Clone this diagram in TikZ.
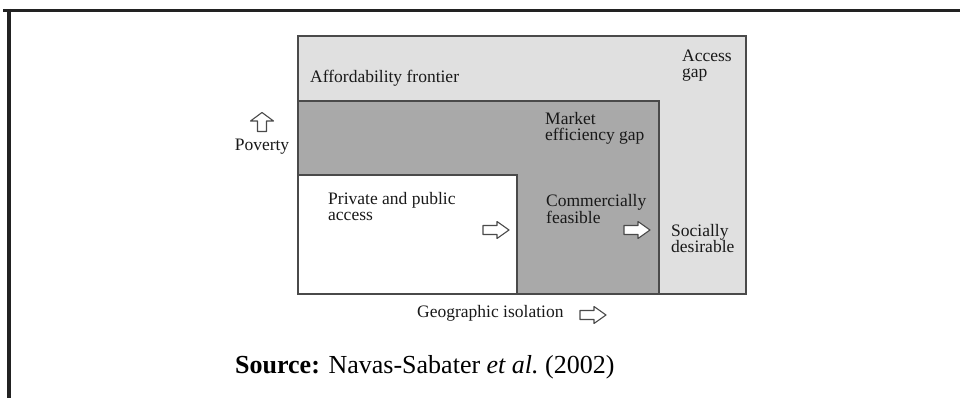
\documentclass[tikz,border=0pt]{standalone}
\usepackage{fontspec}
\setmainfont{Liberation Serif}
\definecolor{lightg}{HTML}{E0E0E0}
\definecolor{midg}{HTML}{A9A9A9}
\definecolor{edgeg}{HTML}{4A4A4A}
\definecolor{frameg}{HTML}{222222}
\begin{document}
\begin{tikzpicture}[x=1pt,y=-1pt,
  region/.style={draw=edgeg,line width=1.2pt},
  lbl/.style={inner sep=0pt,align=left,font=\fontsize{17.5}{16}\selectfont,text=black!90},
  rarrow/.pic={\draw[edgeg,line width=1.1pt,fill=white,line join=round]
     (-13,-4.5)--(1,-4.5)--(1,-8.5)--(13,0)--(1,8.5)--(1,4.5)--(-13,4.5)--cycle;},
  uarrow/.pic={\draw[edgeg,line width=1.1pt,fill=white,line join=round]
     (-4.5,9.5)--(-4.5,-1)--(-11.5,-1)--(0,-9.5)--(11.5,-1)--(4.5,-1)--(4.5,9.5)--cycle;}
]
\useasboundingbox (0,0) rectangle (960,398);
% frame
\draw[frameg,line width=3.3pt] (3,10.7) -- (960,10.7);
\draw[frameg,line width=3.5pt] (9,9) -- (9,398);
% regions
\draw[region,fill=lightg] (298,36) rectangle (746,294);
\draw[region,fill=midg] (298,101) rectangle (659,294);
\draw[region,fill=white] (298,175) rectangle (517,294);
% labels
\node[lbl,anchor=west] (afford) at (310,78) {Affordability frontier};
\node[lbl,anchor=west] (access) at (682,66) {Access\\gap};
\node[lbl,anchor=west] (market) at (545,128) {Market\\efficiency gap};
\node[lbl,anchor=west] (private) at (328,207) {Private and public\\access};
\node[lbl,anchor=west] (commer) at (546,209) {Commercially\\feasible};
\node[lbl,anchor=west] (social) at (671,239) {Socially\\desirable};
\node[lbl] (poverty) at (262,147) {Poverty};
\node[lbl,anchor=west] (geo) at (417,313) {Geographic isolation};
\node[inner sep=0pt,anchor=west,font=\fontsize{26}{28}\selectfont] (source) at (235,367) {\textbf{Source:} Navas-Sabater \textit{et al.}\ (2002)};
% arrows
\pic at (262,122) {uarrow};
\pic at (496,230) {rarrow};
\pic at (637,230) {rarrow};
\pic at (593,315) {rarrow};
\end{tikzpicture}
\end{document}
